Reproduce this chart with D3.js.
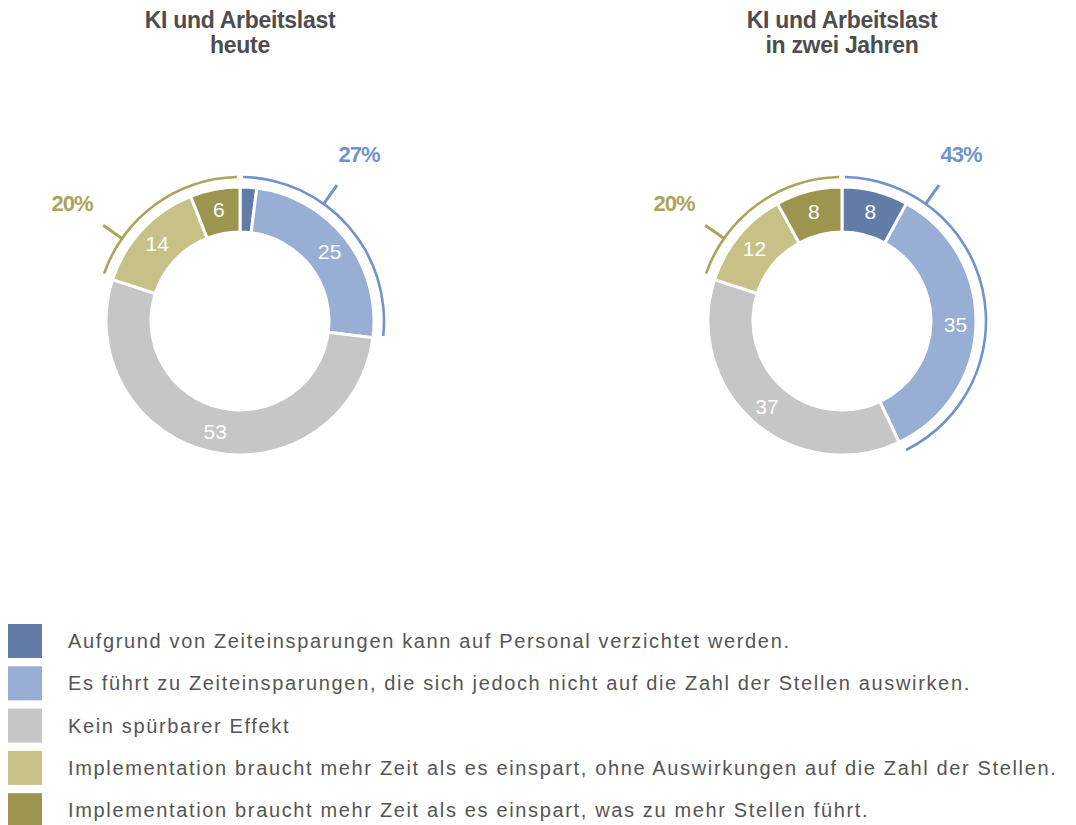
<!DOCTYPE html>
<html>
<head>
<meta charset="utf-8">
<script src="https://cdn.jsdelivr.net/npm/d3@7"></script>
<style>
  body { margin: 0; background: #fff; }
  svg { display: block; font-family: "Liberation Sans", Arial, sans-serif; }
</style>
</head>
<body>
<div id="chart"></div>
<script>
const ancho = 1076
const alto = 825

// datos
const categorias = [
  "Aufgrund von Zeiteinsparungen kann auf Personal verzichtet werden.",
  "Es führt zu Zeiteinsparungen, die sich jedoch nicht auf die Zahl der Stellen auswirken.",
  "Kein spürbarer Effekt",
  "Implementation braucht mehr Zeit als es einspart, ohne Auswirkungen auf die Zahl der Stellen.",
  "Implementation braucht mehr Zeit als es einspart, was zu mehr Stellen führt."
]
const titulos = [["KI und Arbeitslast", "heute"], ["KI und Arbeitslast", "in zwei Jahren"]]
const valoresHoy = [2, 25, 53, 14, 6]
const valoresDosAnos = [8, 35, 37, 12, 8]
const colores = ["#637ba7", "#98aed5", "#c6c6c6", "#c7c187", "#9c954f"]

const grupos = [
  { idx: [0, 1], color: "#7093cc", ang: 35.5 },
  { idx: [3, 4], color: "#aca45a", ang: -55 }
]

const rInt = 89, rExt = 134, rLinea = 144
const centros = [{ x: 240, y: 321 }, { x: 842, y: 321 }]

const svg = d3.select("#chart").append("svg")
  .attr("width", ancho).attr("height", alto)

const pie = d3.pie().sort(null).value(d => d)
const arco = d3.arc().innerRadius(rInt).outerRadius(rExt)
const arcoLinea = d3.arc().innerRadius(rLinea - 1.3).outerRadius(rLinea + 1.3)

function dona(valores, centro, titulo) {
  const g = svg.append("g").attr("transform", `translate(${centro.x},${centro.y})`)

  svg.append("text")
    .attr("x", centro.x).attr("y", 28)
    .attr("text-anchor", "middle")
    .attr("font-weight", "bold").attr("font-size", 23)
    .attr("letter-spacing", -0.3)
    .attr("fill", "#4d4d4d")
    .selectAll("tspan").data(titulo).join("tspan")
      .attr("x", centro.x)
      .attr("dy", (d, i) => i == 0 ? 0 : 25)
      .text(d => d)

  const trozos = pie(valores)
  g.selectAll("path.trozo").data(trozos).join("path")
    .attr("class", "trozo")
    .attr("d", arco)
    .attr("fill", (d, i) => colores[i])
    .attr("stroke", "#fff").attr("stroke-width", 3)

  g.selectAll("text.valor").data(trozos.filter(d => d.data >= 4)).join("text")
    .attr("class", "valor")
    .attr("transform", d => {
      const c = d3.arc().innerRadius(rInt).outerRadius(rExt + 4).centroid(d)
      return `translate(${c})`
    })
    .attr("text-anchor", "middle").attr("dy", "0.36em")
    .attr("fill", "#fff").attr("font-size", 21)
    .text(d => d.data)

  // arcos exteriores de grupos
  grupos.forEach(gr => {
    const inicio = trozos[gr.idx[0]].startAngle
    const fin = trozos[gr.idx[gr.idx.length - 1]].endAngle
    const total = d3.sum(gr.idx, i => valores[i])
    g.append("path")
      .attr("d", arcoLinea({ startAngle: inicio, endAngle: fin, padAngle: 0.03 }))
      .attr("fill", gr.color)
    const a = gr.ang * Math.PI / 180
    g.append("line")
      .attr("x1", Math.sin(a) * rLinea).attr("y1", -Math.cos(a) * rLinea)
      .attr("x2", Math.sin(a) * 167).attr("y2", -Math.cos(a) * 167)
      .attr("stroke", gr.color).attr("stroke-width", 3)
    g.append("text")
      .attr("x", Math.sin(a) * 205).attr("y", -Math.cos(a) * 205)
      .attr("text-anchor", "middle").attr("dy", "0.36em")
      .attr("font-weight", "bold").attr("font-size", 22)
      .attr("letter-spacing", -1)
      .attr("fill", gr.color)
      .text(total + "%")
  })
}

dona(valoresHoy, centros[0], titulos[0])
dona(valoresDosAnos, centros[1], titulos[1])

// leyenda
const leyenda = svg.append("g").selectAll("g").data(categorias).join("g")
  .attr("transform", (d, i) => `translate(8,${624 + i * 42.3})`)
leyenda.append("rect")
  .attr("width", 34).attr("height", 34)
  .attr("fill", (d, i) => colores[i])
leyenda.append("text")
  .attr("x", 60).attr("y", 17).attr("dy", "0.36em")
  .attr("font-size", 20).attr("fill", "#555")
  .attr("letter-spacing", 1.65)
  .text(d => d)
</script>
</body>
</html>
